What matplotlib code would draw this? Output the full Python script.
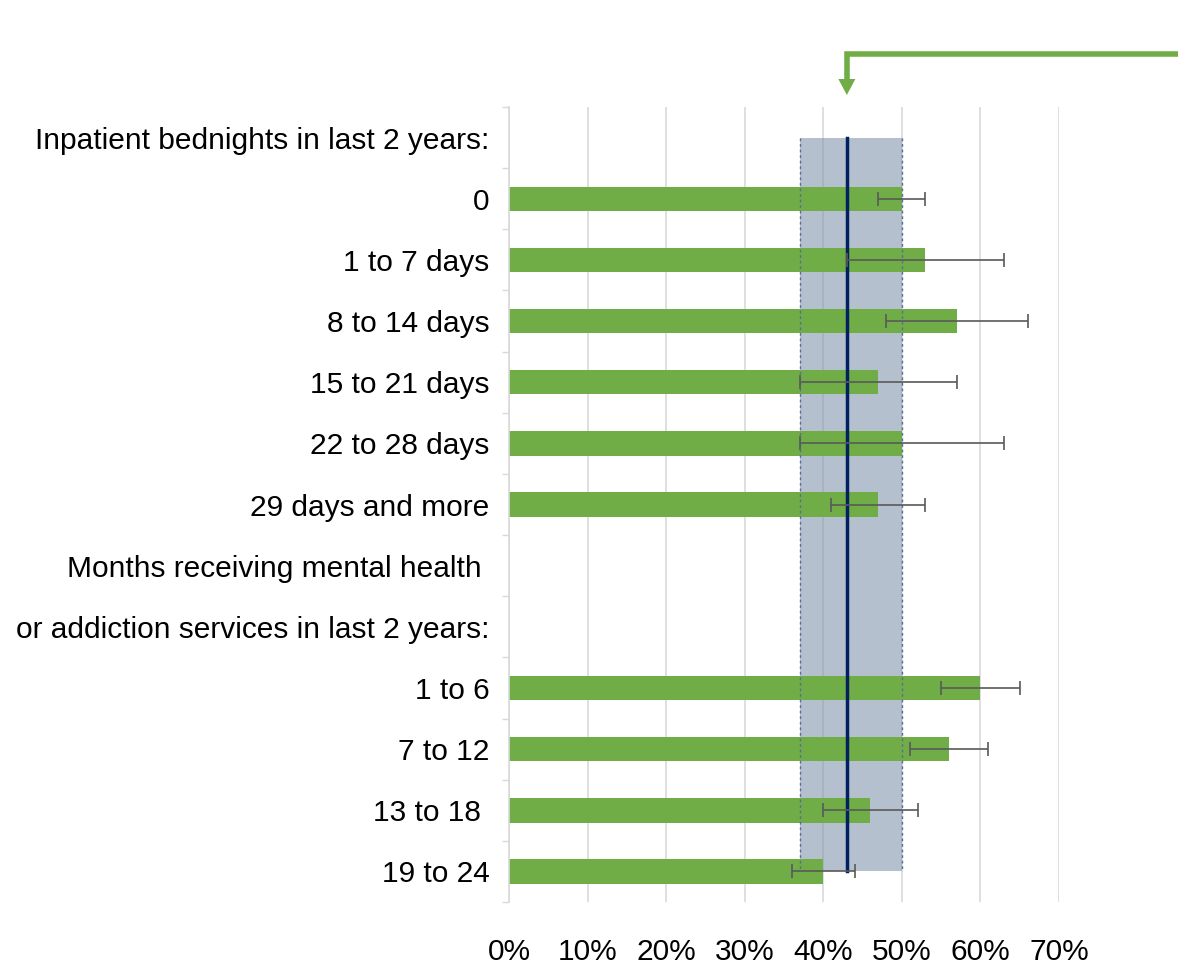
import numpy as np
from matplotlib import pyplot as plt
from matplotlib import transforms
from matplotlib.patches import Polygon

plt.rcParams['font.family'] = ['Liberation Sans', 'DejaVu Sans']

# categories from top to bottom; group headers carry no bar
categories = ["Inpatient bednights in last 2 years:", "0", "1 to 7 days", "8 to 14 days",
              "15 to 21 days", "22 to 28 days", "29 days and more",
              "Months receiving mental health ", "or addiction services in last 2 years:",
              "1 to 6", "7 to 12", "13 to 18 ", "19 to 24"]
pct = [np.nan, 50, 53, 57, 47, 50, 47, np.nan, np.nan, 60, 56, 46, 40]
ci_low = [np.nan, 47, 43, 48, 37, 37, 41, np.nan, np.nan, 55, 51, 40, 36]
ci_high = [np.nan, 53, 63, 66, 57, 63, 53, np.nan, np.nan, 65, 61, 52, 44]

# overall rate and its range
overall = 43
overall_low = 37
overall_high = 50

green = '#70AD47'
navy = '#002060'

fig = plt.figure(figsize=(11.78, 9.68), dpi=100)
ax = fig.add_axes([509 / 1178, 1 - 902 / 968, 550 / 1178, 795 / 968])

y = np.arange(len(categories))
pct = np.array(pct, dtype=float)
err = np.array([pct - np.array(ci_low), np.array(ci_high) - pct])

# shaded band for the overall range
ax.fill_betweenx([y[0], y[-1]], overall_low, overall_high, color='#8497B0', alpha=0.6,
                 linewidth=0, zorder=1)
ax.barh(y, pct, height=0.4, color=green, zorder=2)
for xv in (overall_low, overall_high):
    ax.plot([xv, xv], [y[0], y[-1]], color='#5B6C94', linestyle=(0, (2, 2)), linewidth=1, zorder=3)
ax.plot([overall, overall], [y[0], y[-1]], color=navy, linewidth=2.5, zorder=4)
ax.errorbar(pct, y, xerr=err, fmt='none', ecolor='#595959', elinewidth=1.2,
            capsize=5, capthick=1.2, zorder=5)

ax.set_xlim(0, 70)
ax.set_ylim(len(categories) - 0.5, -0.5)
ax.set_xticks(np.arange(0, 71, 10))
ax.set_xticklabels([f"{v}%" for v in range(0, 71, 10)])
ax.set_yticks(y)
ax.set_yticklabels(categories)
ax.set_yticks(np.arange(-0.5, len(categories), 1), minor=True)
ax.tick_params(axis='y', which='major', length=0, pad=14, labelsize=21.5)
ax.tick_params(axis='y', which='minor', length=5, color='#D9D9D9', width=1)
ax.tick_params(axis='x', length=0, pad=26, labelsize=21.5)
ax.grid(axis='x', color='#D9D9D9', linewidth=1.2, zorder=0)
ax.set_axisbelow(True)
for s in ('top', 'right', 'bottom'):
    ax.spines[s].set_visible(False)
ax.spines['left'].set_color('#D9D9D9')
ax.spines['left'].set_linewidth(1.2)

# green pointer coming in from the right edge down to the overall value
trans = transforms.blended_transform_factory(ax.transData, ax.transAxes)
px_x = 70 / 550          # data units per pixel along x
px_y = 1 / 795           # axes fraction per pixel along y
y_line = (902 - 54) * px_y
y_tip = (902 - 95) * px_y
head_h = 16 * px_y
head_w = 8.5 * px_x
ax.plot([85.5, overall, overall], [y_line, y_line, y_tip + head_h], color=green,
        linewidth=4, transform=trans, clip_on=False, solid_joinstyle='miter',
        solid_capstyle='butt')
ax.add_patch(Polygon([(overall - head_w, y_tip + head_h), (overall + head_w, y_tip + head_h),
                      (overall, y_tip)], closed=True, color=green, transform=trans,
                     clip_on=False, linewidth=0))

fig.savefig('out.png', dpi=100)
